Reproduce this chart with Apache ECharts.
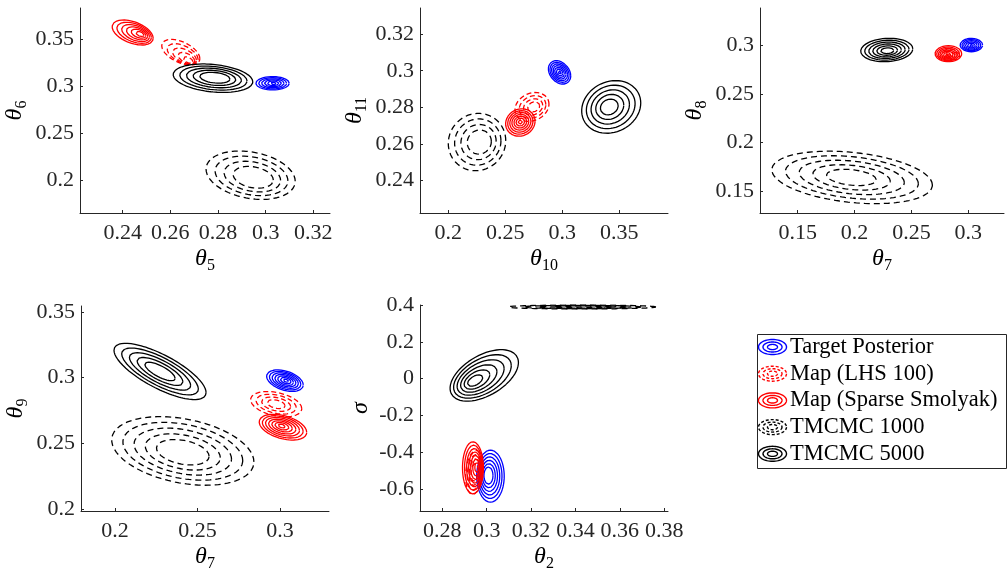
<!DOCTYPE html>
<html><head><meta charset="utf-8">
<script src="https://cdn.jsdelivr.net/npm/echarts@6/dist/echarts.min.js"></script>
<style>html,body{margin:0;padding:0;background:#fff}#c{width:1008px;height:573px}</style>
</head><body><div id="c"></div>
<script>
// ---------------- DATA ----------------
const methodNames = ['Target Posterior', 'Map (LHS 100)', 'Map (Sparse Smolyak)', 'TMCMC 1000', 'TMCMC 5000'];

// Contour sets, one row per method (order as methodNames):
// [centerX, centerY, halfWidthX, halfWidthY, correlation, innerShiftX, innerShiftY, ringCount, innerRingScale]
const c_t5_t6 = [
  [0.3029, 0.3030, 0.0070, 0.0071, 0.00, 0.0003, 0.0000, 6, 0.18],
  [0.2644, 0.3360, 0.0080, 0.0136, -0.50, 0.0031, -0.0083, 5, 0.25],
  [0.2442, 0.3569, 0.0086, 0.0133, -0.45, 0.0031, -0.0016, 6, 0.20],
  [0.2937, 0.2054, 0.0187, 0.0257, -0.25, 0.0011, -0.0022, 4, 0.45],
  [0.2779, 0.3084, 0.0167, 0.0151, -0.25, 0.0008, 0.0005, 5, 0.38]
];
const c_t10_t11 = [
  [0.2976, 0.2991, 0.0098, 0.0064, -0.30, 0.0000, 0.0000, 7, 0.15],
  [0.2734, 0.2802, 0.0149, 0.0079, 0.20, 0.0015, 0.0000, 4, 0.35],
  [0.2632, 0.2717, 0.0129, 0.0075, 0.10, 0.0000, 0.0003, 7, 0.15],
  [0.2252, 0.2610, 0.0252, 0.0157, 0.05, 0.0020, 0.0000, 4, 0.42],
  [0.3429, 0.2802, 0.0259, 0.0144, 0.15, -0.0017, 0.0000, 5, 0.30]
];
const c_t7_t8 = [
  [0.3027, 0.3000, 0.0099, 0.0069, 0.00, 0.0000, -0.0007, 6, 0.20],
  [0.2855, 0.2905, 0.0070, 0.0055, -0.30, 0.0000, 0.0000, 3, 0.40],
  [0.2825, 0.2911, 0.0117, 0.0082, 0.00, -0.0014, -0.0014, 7, 0.15],
  [0.1978, 0.1642, 0.0706, 0.0269, -0.29, -0.0006, 0.0000, 5, 0.31],
  [0.2283, 0.2949, 0.0229, 0.0120, 0.10, 0.0005, -0.0007, 6, 0.25]
];
const c_t7_t9 = [
  [0.3030, 0.2977, 0.0111, 0.0082, -0.40, 0.0006, 0.0000, 7, 0.15],
  [0.2977, 0.2798, 0.0155, 0.0096, -0.35, 0.0000, 0.0000, 4, 0.35],
  [0.3018, 0.2623, 0.0144, 0.0098, -0.40, -0.0008, 0.0009, 7, 0.15],
  [0.2411, 0.2442, 0.0431, 0.0261, -0.32, 0.0000, -0.0010, 5, 0.37],
  [0.2273, 0.3047, 0.0279, 0.0214, -0.75, 0.0000, 0.0000, 5, 0.33]
];
const c_t2_sigma = [
  [0.3017, -0.5310, 0.0062, 0.1414, 0.00, -0.0009, 0.0030, 6, 0.33],
  [0.2945, -0.5100, 0.0040, 0.1200, 0.20, 0.0000, 0.0000, 4, 0.40],
  [0.2938, -0.4854, 0.0047, 0.1416, 0.00, 0.0018, 0.0020, 7, 0.20],
  [0.3428, 0.3892, 0.0335, 0.0108, 0.00, 0.0000, 0.0000, 4, 0.40],
  [0.2989, 0.0170, 0.0154, 0.1400, 0.50, -0.0041, -0.0280, 6, 0.22]
];

// Tick values
const ticks_t5 = [0.24, 0.26, 0.28, 0.30, 0.32];
const ticks_t6 = [0.20, 0.25, 0.30, 0.35];
const ticks_t10 = [0.20, 0.25, 0.30, 0.35];
const ticks_t11 = [0.24, 0.26, 0.28, 0.30, 0.32];
const ticks_t7a = [0.15, 0.20, 0.25, 0.30];
const ticks_t8 = [0.15, 0.20, 0.25, 0.30];
const ticks_t7b = [0.20, 0.25, 0.30];
const ticks_t9 = [0.20, 0.25, 0.30, 0.35];
const ticks_t2 = [0.28, 0.30, 0.32, 0.34, 0.36, 0.38];
const ticks_sigma = [-0.6, -0.4, -0.2, 0, 0.2, 0.4];

// Axis ranges
const range_t5 = [0.2221, 0.3270], range_t6 = [0.1653, 0.3829];
const range_t10 = [0.1752, 0.3927], range_t11 = [0.2222, 0.3343];
const range_t7a = [0.1168, 0.3314], range_t8 = [0.1277, 0.3380];
const range_t7b = [0.1794, 0.3297], range_t9 = [0.1985, 0.3545];
const range_t2 = [0.26995, 0.3817], range_sigma = [-0.7205, 0.40];

// ---------------- STYLE / LAYOUT ----------------
const FONT = 'Liberation Serif';
const methodStyle = [
  { color: '#0000ff', dash: 'solid' },
  { color: '#ff0000', dash: [5, 3] },
  { color: '#ff0000', dash: 'solid' },
  { color: '#000000', dash: [6, 4] },
  { color: '#000000', dash: 'solid' }
];
const panels = [
  { c: c_t5_t6, xt: ticks_t5, yt: ticks_t6, xr: range_t5, yr: range_t6, xn: ['θ', '5'], yn: ['θ', '6'], grid: { left: 80, top: 8, width: 250, height: 205 } },
  { c: c_t10_t11, xt: ticks_t10, yt: ticks_t11, xr: range_t10, yr: range_t11, xn: ['θ', '10'], yn: ['θ', '11'], grid: { left: 420, top: 8, width: 248, height: 205 } },
  { c: c_t7_t8, xt: ticks_t7a, yt: ticks_t8, xr: range_t7a, yr: range_t8, xn: ['θ', '7'], yn: ['θ', '8'], grid: { left: 760, top: 8, width: 244, height: 205 } },
  { c: c_t7_t9, xt: ticks_t7b, yt: ticks_t9, xr: range_t7b, yr: range_t9, xn: ['θ', '7'], yn: ['θ', '9'], grid: { left: 81, top: 306, width: 248, height: 207 } },
  { c: c_t2_sigma, xt: ticks_t2, yt: ticks_sigma, xr: range_t2, yr: range_sigma, xn: ['θ', '2'], yn: ['σ', ''], grid: { left: 420, top: 305, width: 248, height: 207 } }
];

function ringPoints(p, s) {
  const [cx, cy, sx, sy, rho, dx, dy, n, smin] = p;
  const f = (1 - s) / (1 - smin);
  const ox = cx + f * dx, oy = cy + f * dy;
  const q = Math.sqrt(1 - rho * rho);
  const pts = [];
  const N = 120;
  for (let i = 0; i <= N; i++) {
    const t = 2 * Math.PI * i / N;
    pts.push([ox + s * sx * Math.cos(t), oy + s * sy * (rho * Math.cos(t) + q * Math.sin(t))]);
  }
  return pts;
}

const fmt = v => String(parseFloat(Number(v).toFixed(4)));
const nameRich = {
  t: { fontFamily: FONT, fontStyle: 'italic', fontSize: 24, lineHeight: 30, verticalAlign: 'middle', color: '#000' },
  s: { fontFamily: FONT, fontSize: 16, lineHeight: 16, verticalAlign: 'bottom', color: '#000' }
};
const axisCommon = {
  type: 'value',
  axisLine: { show: true, onZero: false, lineStyle: { color: '#262626', width: 1 } },
  axisTick: { show: true, inside: true, length: 3, lineStyle: { color: '#262626' } },
  splitLine: { show: false },
  nameLocation: 'middle',
  nameTextStyle: { rich: nameRich }
};

const grids = [], xAxes = [], yAxes = [], series = [];
panels.forEach((P, i) => {
  grids.push(Object.assign({ containLabel: false }, P.grid));
  xAxes.push(Object.assign({}, axisCommon, {
    gridIndex: i, min: P.xr[0], max: P.xr[1],
    name: '{t|' + P.xn[0] + '}{s|' + P.xn[1] + '}', nameGap: 31,
    axisTick: Object.assign({}, axisCommon.axisTick, { customValues: P.xt }),
    axisLabel: { customValues: P.xt, formatter: fmt, fontFamily: FONT, fontSize: 22, color: '#262626', margin: 9 }
  }));
  yAxes.push(Object.assign({}, axisCommon, {
    gridIndex: i, min: P.yr[0], max: P.yr[1],
    name: '{t|' + P.yn[0] + '}{s|' + P.yn[1] + '}', nameGap: i === 4 ? 44 : 50,
    axisTick: Object.assign({}, axisCommon.axisTick, { customValues: P.yt }),
    axisLabel: { customValues: P.yt, formatter: fmt, fontFamily: FONT, fontSize: 22, color: '#262626', margin: 6 }
  }));
  P.c.forEach((p, m) => {
    const n = p[7], smin = p[8];
    for (let k = 0; k < n; k++) {
      const s = n === 1 ? 1 : 1 - k * (1 - smin) / (n - 1);
      series.push({
        type: 'line', xAxisIndex: i, yAxisIndex: i,
        data: ringPoints(p, s), showSymbol: false, symbol: 'none', smooth: false,
        silent: true, animation: false, z: 2 + m,
        lineStyle: { color: methodStyle[m].color, width: 1.3, type: methodStyle[m].dash }
      });
    }
  });
});

// Legend (drawn as graphics)
const legendEls = [];
const LX = 757.5, LY = 334.5, LW = 249, LH = 134, rowH = 26.7;
legendEls.push({ type: 'rect', shape: { x: LX, y: LY, width: LW, height: LH }, style: { fill: '#fff', stroke: '#262626', lineWidth: 1 }, z: 100 });
methodNames.forEach((name, m) => {
  const cy = LY + 12.5 + m * rowH, cx = 772.5;
  [[14, 7.5], [9.5, 5], [5, 2.6]].forEach(([rx, ry]) => {
    const pts = [];
    for (let i = 0; i < 60; i++) { const t = 2 * Math.PI * i / 60; pts.push([cx + rx * Math.cos(t), cy + ry * Math.sin(t)]); }
    legendEls.push({ type: 'polygon', shape: { points: pts }, style: { fill: 'none', stroke: methodStyle[m].color, lineWidth: 1.4, lineDash: methodStyle[m].dash === 'solid' ? null : [3, 2] }, z: 101 });
  });
  legendEls.push({ type: 'text', x: 790, y: cy, style: { text: name, font: '22.5px "' + FONT + '"', fill: '#000', textVerticalAlign: 'middle' }, z: 101 });
});

const chart = echarts.init(document.getElementById('c'), null, { renderer: 'canvas' });
chart.setOption({
  animation: false,
  backgroundColor: '#fff',
  grid: grids, xAxis: xAxes, yAxis: yAxes, series: series,
  graphic: legendEls
});
</script></body></html>
